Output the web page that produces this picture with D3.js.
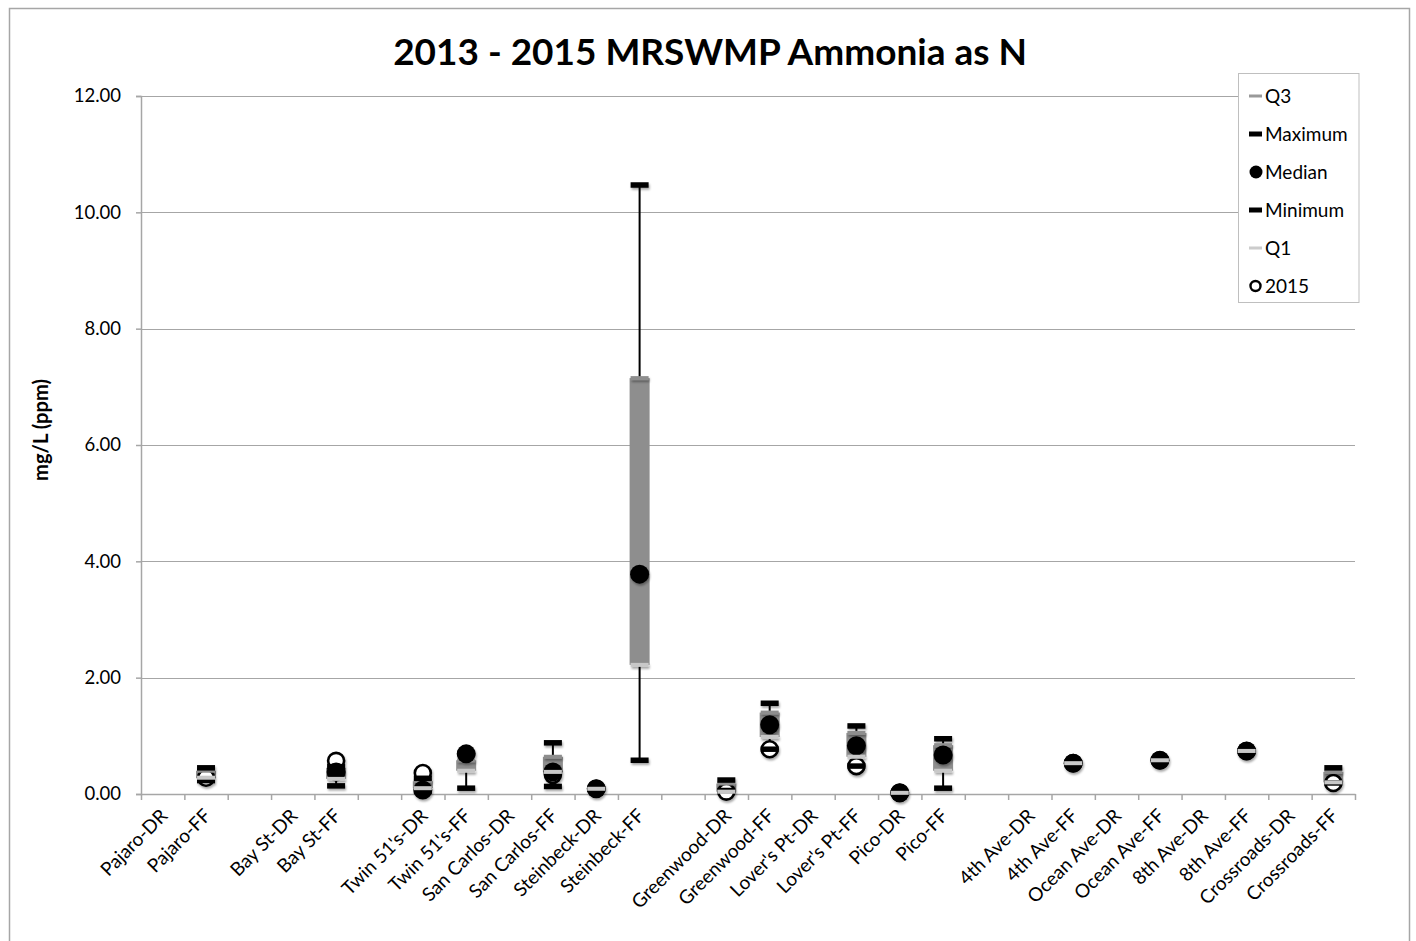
<!DOCTYPE html>
<html><head><meta charset="utf-8">
<script src="https://cdn.jsdelivr.net/npm/d3@7"></script>
<style>
body{margin:0;background:#fff;}
svg{display:block;}
text{font-family:Lato,"Open Sans",sans-serif;fill:#000;}
</style>
</head><body>
<svg id="chart" width="1416" height="941"></svg>
<script>
// ---------- data ----------
const categories = ["Pajaro-DR","Pajaro-FF","","Bay St-DR","Bay St-FF","","Twin 51's-DR","Twin 51's-FF","San Carlos-DR","San Carlos-FF","Steinbeck-DR","Steinbeck-FF","","Greenwood-DR","Greenwood-FF","Lover's Pt-DR","Lover's Pt-FF","Pico-DR","Pico-FF","","4th Ave-DR","4th Ave-FF","Ocean Ave-DR","Ocean Ave-FF","8th Ave-DR","8th Ave-FF","Crossroads-DR","Crossroads-FF"];
const q3Values     = [null,0.40,null,null,0.45,null,0.22,0.58,null,0.64,0.09,7.15,null,0.18,1.40,null,1.05,0.02,0.84,null,null,0.53,null,0.58,null,0.74,null,0.38];
const maxValues    = [null,0.45,null,null,0.47,null,0.27,0.70,null,0.88,0.09,10.47,null,0.24,1.56,null,1.17,0.02,0.95,null,null,0.53,null,0.58,null,0.74,null,0.45];
const medianValues = [null,null,null,null,0.38,null,0.07,0.69,null,0.38,0.09,3.78,null,null,1.19,null,0.83,0.02,0.67,null,null,0.53,null,0.58,null,0.74,null,null];
const minValues    = [null,0.23,null,null,0.14,null,0.05,0.10,null,0.13,0.09,0.58,null,0.06,0.77,null,0.48,0.02,0.10,null,null,0.53,null,0.58,null,0.74,null,0.19];
const q1Values     = [null,0.28,null,null,0.26,null,0.10,0.40,null,0.38,0.09,2.22,null,0.04,0.98,null,0.64,0.02,0.40,null,null,0.53,null,0.58,null,0.74,null,0.20];
const y2015Values  = [null,0.28,null,null,0.57,null,0.36,null,null,0.33,0.09,null,null,0.04,0.77,null,0.48,0.02,null,null,null,0.53,null,0.58,null,0.74,null,0.19];
const yTicks = [0,2,4,6,8,10,12];
const legendLabels = ["Q3","Maximum","Median","Minimum","Q1","2015"];
const titleText = "2013 - 2015 MRSWMP Ammonia as N";
const yAxisTitle = "mg/L (ppm)";

// ---------- layout ----------
const plot = {left:141, right:1355, top:96, bottom:794};
const svg = d3.select("#chart");

const defs = svg.append("defs");
const f = defs.append("filter").attr("id","shadow").attr("x","-50%").attr("y","-50%").attr("width","200%").attr("height","200%");
f.append("feDropShadow").attr("dx",1).attr("dy",2).attr("stdDeviation",1.3).attr("flood-color","#000").attr("flood-opacity",0.35);

// outer border
svg.append("rect").attr("x",9.5).attr("y",8.5).attr("width",1400).attr("height",960)
  .attr("fill","#fff").attr("stroke","#a6a6a6").attr("stroke-width",1.5);

const x = d3.scaleBand().domain(d3.range(categories.length)).range([plot.left, plot.right]).padding(0);
const xEdge = d3.scaleLinear().domain([0, categories.length]).range([plot.left, plot.right]);
const y = d3.scaleLinear().domain([0,12]).range([plot.bottom, plot.top]);
const cx = i => x(i) + x.bandwidth()/2;

// gridlines
svg.append("g").selectAll("line").data(yTicks.filter(d=>d>0)).join("line")
  .attr("x1",plot.left).attr("x2",plot.right)
  .attr("y1",d=>Math.round(y(d))+0.5).attr("y2",d=>Math.round(y(d))+0.5)
  .attr("stroke","#a6a6a6").attr("stroke-width",1);

// y axis
const yAxis = svg.append("g").attr("transform",`translate(${plot.left},0)`)
  .call(d3.axisLeft(y).tickValues(yTicks).tickFormat(d3.format(".2f")).tickSize(5).tickPadding(15));
yAxis.select(".domain").attr("stroke","#a6a6a6").attr("stroke-width",1.5);
yAxis.selectAll(".tick line").attr("stroke","#a6a6a6").attr("stroke-width",1.5);
yAxis.selectAll(".tick text").attr("font-size",18.5).attr("font-family","Lato").attr("fill","#000");

// x axis (ticks at category boundaries)
const xAxis = svg.append("g").attr("transform",`translate(0,${plot.bottom})`)
  .call(d3.axisBottom(xEdge).tickValues(d3.range(categories.length+1)).tickFormat("").tickSize(6).tickSizeOuter(0));
xAxis.select(".domain").attr("stroke","#a6a6a6").attr("stroke-width",1.5);
xAxis.selectAll(".tick line").attr("stroke","#a6a6a6").attr("stroke-width",1.5);

// x labels
svg.append("g").selectAll("text").data(categories.map((c,i)=>({c,i})).filter(d=>d.c!==""))
  .join("text")
  .attr("transform",d=>`translate(${cx(d.i)+6},${plot.bottom+23}) rotate(-45)`)
  .attr("text-anchor","end").attr("font-size",19).text(d=>d.c);

// ---------- boxes & whiskers ----------
const idx = d3.range(categories.length);
const boxW = 20, dashW = 18;
svg.append("g").selectAll("line").data(idx.filter(i=>maxValues[i]!=null && minValues[i]!=null && maxValues[i]!==minValues[i]))
  .join("line")
  .attr("x1",i=>cx(i)).attr("x2",i=>cx(i))
  .attr("y1",i=>y(maxValues[i])).attr("y2",i=>y(minValues[i]))
  .attr("stroke","#000").attr("stroke-width",2);
svg.append("g").selectAll("rect").data(idx.filter(i=>q1Values[i]!=null && q3Values[i]!=null && q3Values[i]!==q1Values[i]))
  .join("rect")
  .attr("x",i=>cx(i)-boxW/2).attr("width",boxW)
  .attr("y",i=>y(Math.max(q1Values[i],q3Values[i])))
  .attr("height",i=>Math.abs(y(q1Values[i])-y(q3Values[i])))
  .attr("fill","#8e8e8e");

// ---------- markers ----------
const mk = svg.append("g").attr("filter","url(#shadow)");
function dashes(vals, h, color){
  mk.append("g").selectAll("rect").data(idx.filter(i=>vals[i]!=null)).join("rect")
    .attr("x",i=>cx(i)-dashW/2).attr("width",dashW)
    .attr("y",i=>y(vals[i])-h/2).attr("height",h).attr("fill",color);
}
function circles(vals, r, fill, stroke, sw){
  mk.append("g").selectAll("circle").data(idx.filter(i=>vals[i]!=null)).join("circle")
    .attr("cx",i=>cx(i)).attr("cy",i=>y(vals[i])).attr("r",r)
    .attr("fill",fill).attr("stroke",stroke).attr("stroke-width",sw);
}
circles(y2015Values, 8, "#fff", "#000", 2.6);
dashes(q3Values, 4, "#8e8e8e");
dashes(maxValues, 5.5, "#000");
circles(medianValues, 9.5, "#000", "none", 0);
dashes(minValues, 5.5, "#000");
dashes(q1Values, 4, "#c8c8c8");

// ---------- legend ----------
const lg = svg.append("g");
lg.append("rect").attr("x",1238.5).attr("y",73.5).attr("width",120.5).attr("height",229)
  .attr("fill","#fff").attr("stroke","#bfbfbf").attr("stroke-width",1);
const rowY = i => 96 + i*38;
const items = lg.selectAll("g.item").data(legendLabels).join("g").attr("class","item")
  .attr("transform",(d,i)=>`translate(0,${rowY(i)})`);
items.append("text").attr("x",1265).attr("y",0).attr("dy","0.35em").attr("font-size",19).text(d=>d);
items.each(function(d,i){
  const g = d3.select(this);
  if(i===0) g.append("rect").attr("x",1249).attr("y",-1.5).attr("width",13).attr("height",3).attr("fill","#999");
  if(i===1||i===3) g.append("rect").attr("x",1249).attr("y",-2.5).attr("width",13).attr("height",5).attr("fill","#000");
  if(i===2) g.append("circle").attr("cx",1256).attr("cy",0).attr("r",6.5).attr("fill","#000");
  if(i===4) g.append("rect").attr("x",1249).attr("y",-1.5).attr("width",13).attr("height",3).attr("fill","#ccc");
  if(i===5) g.append("circle").attr("cx",1255.5).attr("cy",0).attr("r",5).attr("fill","#fff").attr("stroke","#000").attr("stroke-width",2.4);
});

// ---------- titles ----------
function fit(sel, target){
  const len = sel.node().getComputedTextLength();
  const fs = parseFloat(sel.attr("font-size"));
  sel.attr("font-size", fs*target/len);
}
const title = svg.append("text").attr("x",710).attr("y",65).attr("text-anchor","middle")
  .attr("font-weight","bold").attr("font-size",38).text(titleText);
fit(title, 634);
const yt = svg.append("text").attr("transform","translate(48,430) rotate(-90)").attr("text-anchor","middle")
  .attr("font-weight","bold").attr("font-size",18).text(yAxisTitle);
fit(yt, 102);
</script>
</body></html>
